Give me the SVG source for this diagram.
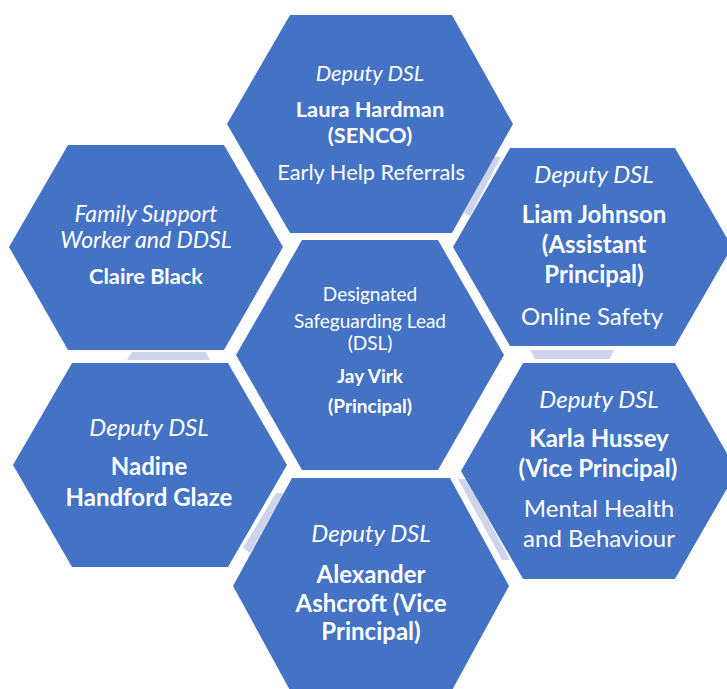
<svg xmlns="http://www.w3.org/2000/svg" width="727" height="689" viewBox="0 0 727 689">
<style>
.hex{fill:#4472C4}
.band{fill:#CED4EA}
text{fill:#FFFFFF;font-family:Lato,"Open Sans","Liberation Sans",sans-serif;text-anchor:middle}
.i{font-style:italic}
.b{font-weight:bold}
.l{font-size:24px}
.c{font-size:23px}
.m{font-size:21.8px}
.s{font-size:19px}
</style>
<rect width="727" height="689" fill="#FFFFFF"/>
<g id="connectors">
<polygon class="band" points="494,157 501,157 470,216 464,213"/>
<polygon class="band" points="132,352 206,352 210,360 127,360"/>
<polygon class="band" points="530,350 614,350 610,359 535,359"/>
<polygon class="band" points="276,493 284,493 250,553 243,548"/>
<polygon class="band" points="458,479 466,479 510,560 502,560"/>
</g>
<g id="laura">
<polygon class="hex" points="227,124 290,15 452,15 513,124 452,233 290,233"/>
<text class="m i" x="370" y="81">Deputy DSL</text>
<text class="m b" x="370" y="117">Laura Hardman</text>
<text class="m b" x="370" y="143">(SENCO)</text>
<text class="m" x="371" y="180">Early Help Referrals</text>
</g>
<g id="claire">
<polygon class="hex" points="9,247 68,145 224,145 283,247 224,350 68,350"/>
<text class="c i" x="146" y="222">Family Support</text>
<text class="c i" x="146" y="248">Worker and DDSL</text>
<text class="m b" x="146" y="284">Claire Black</text>
</g>
<g id="liam">
<polygon class="hex" points="453,247 510,148 675,148 732,247 675,346 510,346"/>
<text class="l i" x="594" y="183">Deputy DSL</text>
<text class="l b" x="594" y="223">Liam Johnson</text>
<text class="l b" x="594" y="253">(Assistant</text>
<text class="l b" x="594" y="283">Principal)</text>
<text class="l" x="592" y="325">Online Safety</text>
</g>
<g id="jay">
<polygon class="hex" points="236,355 302,240 438,240 504,355 438,470 302,470"/>
<text class="s" x="370" y="301">Designated</text>
<text class="s" x="370" y="328">Safeguarding Lead</text>
<text class="s" x="370" y="350">(DSL)</text>
<text class="s b" x="370" y="383">Jay Virk</text>
<text class="s b" x="370" y="413">(Principal)</text>
</g>
<g id="nadine">
<polygon class="hex" points="13,465 72,363 228,363 287,465 228,567 72,567"/>
<text class="l i" x="149" y="436">Deputy DSL</text>
<text class="l b" x="149" y="475">Nadine</text>
<text class="l b" x="149" y="506">Handford Glaze</text>
</g>
<g id="karla">
<polygon class="hex" points="461,471 523,363 675,363 737,471 675,579 523,579"/>
<text class="l i" x="599" y="408">Deputy DSL</text>
<text class="l b" x="599" y="447">Karla Hussey</text>
<text class="l b" x="598" y="477">(Vice Principal)</text>
<text class="l" x="599" y="517">Mental Health</text>
<text class="l" x="599" y="547">and Behaviour</text>
</g>
<g id="alexander">
<polygon class="hex" points="233,586 292,478 450,478 509,586 450,694 292,694"/>
<text class="l i" x="371" y="542">Deputy DSL</text>
<text class="l b" x="371" y="583">Alexander</text>
<text class="l b" x="371" y="612">Ashcroft (Vice</text>
<text class="l b" x="371" y="640">Principal)</text>
</g>
</svg>
